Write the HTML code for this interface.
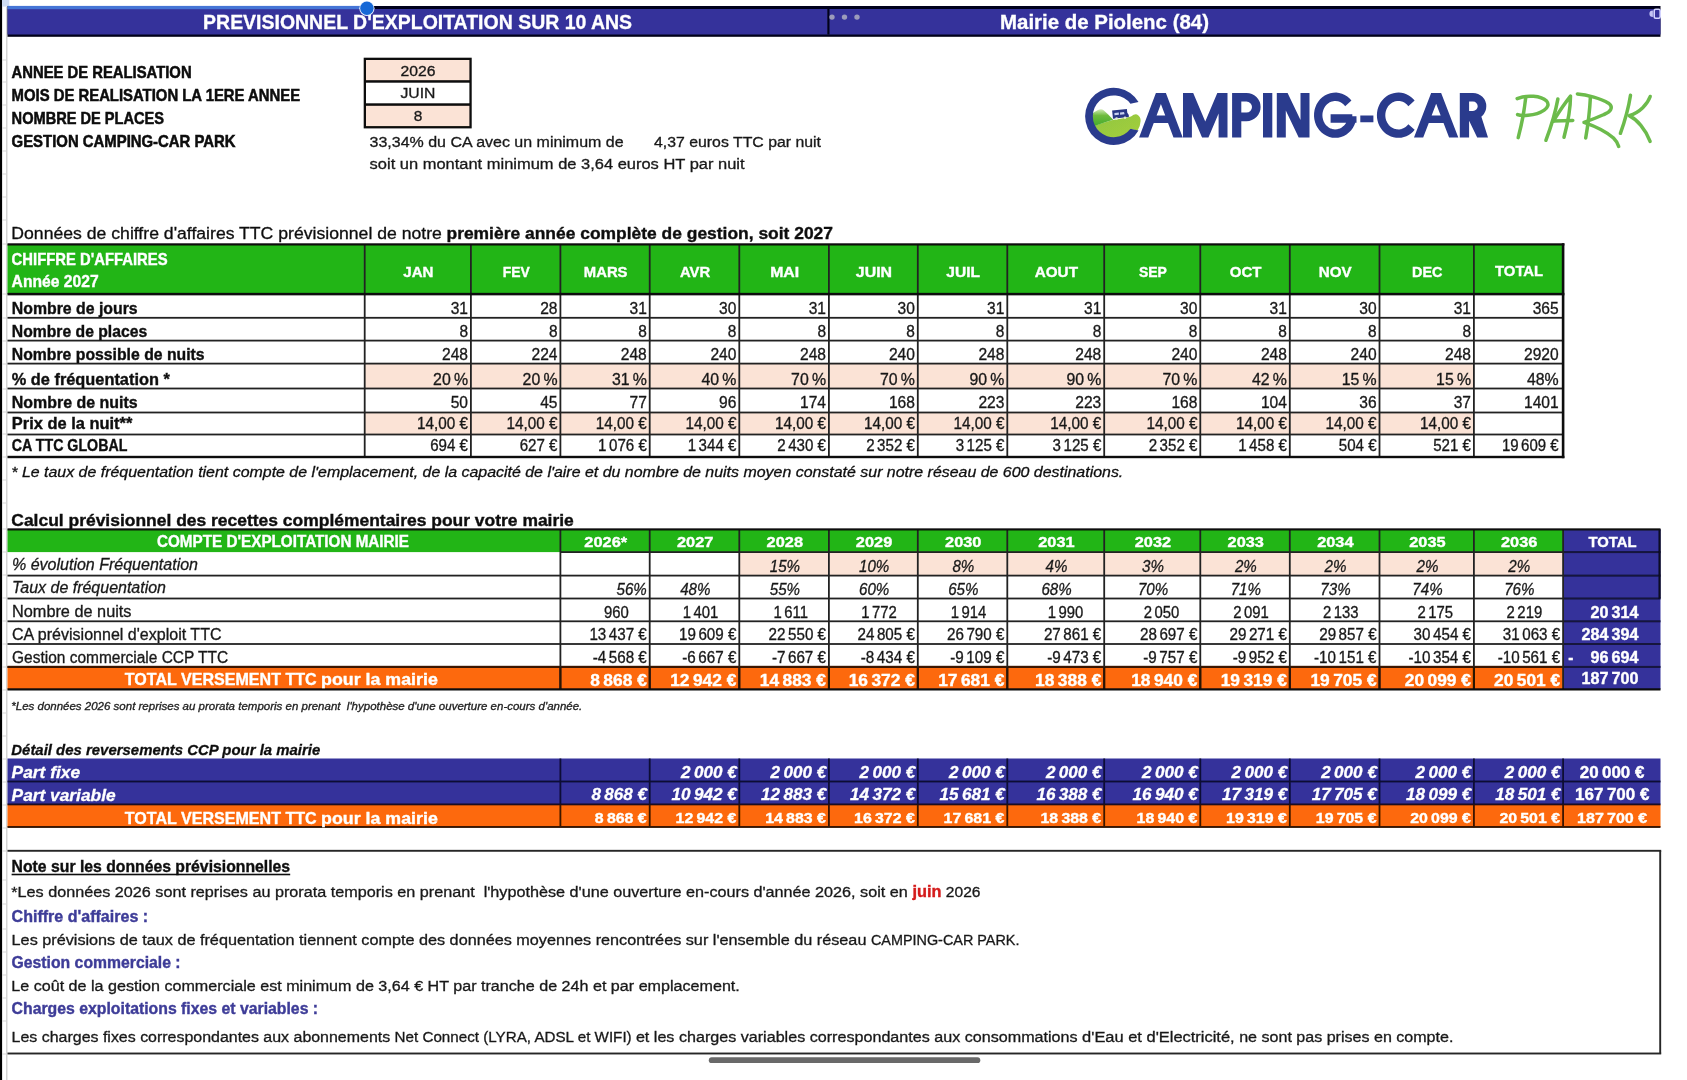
<!DOCTYPE html>
<html lang="fr"><head><meta charset="utf-8"><title>Previsionnel d'exploitation sur 10 ans - Mairie de Piolenc (84)</title>
<style>
html,body{margin:0;padding:0;background:#fff;}
body{width:1687px;height:1080px;overflow:hidden;position:relative;}
svg{position:absolute;left:0;top:0;display:block;}
text{font-family:"Liberation Sans",sans-serif;white-space:pre;}
text.b{font-weight:700;} text.i{font-style:italic;} text.bi{font-weight:700;font-style:italic;}
</style></head><body>
<svg width="1687" height="1080" viewBox="0 0 1687 1080">
<defs><filter id="soft" x="0" y="0" width="1687" height="1080" filterUnits="userSpaceOnUse"><feGaussianBlur stdDeviation="0.6"/></filter></defs>
<rect x="0" y="0" width="1687" height="1080" fill="#ffffff"/>
<g filter="url(#soft)">
<rect x="-5" y="-5" width="1697" height="1090" fill="#ffffff"/>
<rect x="0.00" y="0.00" width="2.10" height="1080.00" fill="#050505" />
<rect x="2.00" y="0.00" width="7.30" height="6.60" fill="#cfdcf2" />
<rect x="6.20" y="7.00" width="1.20" height="1073.00" fill="#c9c9c9" />
<rect x="2.00" y="59.50" width="5.00" height="1.00" fill="#d6d6d6" />
<rect x="2.00" y="81.50" width="5.00" height="1.00" fill="#d6d6d6" />
<rect x="2.00" y="104.50" width="5.00" height="1.00" fill="#d6d6d6" />
<rect x="2.00" y="127.50" width="5.00" height="1.00" fill="#d6d6d6" />
<rect x="2.00" y="150.50" width="5.00" height="1.00" fill="#d6d6d6" />
<rect x="2.00" y="173.50" width="5.00" height="1.00" fill="#d6d6d6" />
<rect x="2.00" y="196.50" width="5.00" height="1.00" fill="#d6d6d6" />
<rect x="2.00" y="219.50" width="5.00" height="1.00" fill="#d6d6d6" />
<rect x="2.00" y="243.50" width="5.00" height="1.00" fill="#d6d6d6" />
<rect x="2.00" y="293.50" width="5.00" height="1.00" fill="#d6d6d6" />
<rect x="2.00" y="317.50" width="5.00" height="1.00" fill="#d6d6d6" />
<rect x="2.00" y="340.50" width="5.00" height="1.00" fill="#d6d6d6" />
<rect x="2.00" y="363.50" width="5.00" height="1.00" fill="#d6d6d6" />
<rect x="2.00" y="388.50" width="5.00" height="1.00" fill="#d6d6d6" />
<rect x="2.00" y="411.50" width="5.00" height="1.00" fill="#d6d6d6" />
<rect x="2.00" y="433.50" width="5.00" height="1.00" fill="#d6d6d6" />
<rect x="2.00" y="456.50" width="5.00" height="1.00" fill="#d6d6d6" />
<rect x="2.00" y="479.50" width="5.00" height="1.00" fill="#d6d6d6" />
<rect x="2.00" y="502.50" width="5.00" height="1.00" fill="#d6d6d6" />
<rect x="2.00" y="528.50" width="5.00" height="1.00" fill="#d6d6d6" />
<rect x="2.00" y="551.50" width="5.00" height="1.00" fill="#d6d6d6" />
<rect x="2.00" y="574.50" width="5.00" height="1.00" fill="#d6d6d6" />
<rect x="2.00" y="597.50" width="5.00" height="1.00" fill="#d6d6d6" />
<rect x="2.00" y="620.50" width="5.00" height="1.00" fill="#d6d6d6" />
<rect x="2.00" y="643.50" width="5.00" height="1.00" fill="#d6d6d6" />
<rect x="2.00" y="666.50" width="5.00" height="1.00" fill="#d6d6d6" />
<rect x="2.00" y="689.50" width="5.00" height="1.00" fill="#d6d6d6" />
<rect x="2.00" y="712.50" width="5.00" height="1.00" fill="#d6d6d6" />
<rect x="2.00" y="735.50" width="5.00" height="1.00" fill="#d6d6d6" />
<rect x="2.00" y="758.50" width="5.00" height="1.00" fill="#d6d6d6" />
<rect x="2.00" y="781.50" width="5.00" height="1.00" fill="#d6d6d6" />
<rect x="2.00" y="804.50" width="5.00" height="1.00" fill="#d6d6d6" />
<rect x="2.00" y="827.50" width="5.00" height="1.00" fill="#d6d6d6" />
<rect x="2.00" y="850.50" width="5.00" height="1.00" fill="#d6d6d6" />
<rect x="2.00" y="879.50" width="5.00" height="1.00" fill="#d6d6d6" />
<rect x="2.00" y="903.50" width="5.00" height="1.00" fill="#d6d6d6" />
<rect x="2.00" y="928.50" width="5.00" height="1.00" fill="#d6d6d6" />
<rect x="2.00" y="951.50" width="5.00" height="1.00" fill="#d6d6d6" />
<rect x="2.00" y="974.50" width="5.00" height="1.00" fill="#d6d6d6" />
<rect x="2.00" y="997.50" width="5.00" height="1.00" fill="#d6d6d6" />
<rect x="2.00" y="1020.50" width="5.00" height="1.00" fill="#d6d6d6" />
<rect x="2.00" y="1053.50" width="5.00" height="1.00" fill="#d6d6d6" />
<rect x="7.50" y="6.00" width="1653.00" height="30.80" fill="#05051a" />
<rect x="7.50" y="9.00" width="1653.00" height="25.50" fill="#35339b" />
<rect x="7.50" y="5.90" width="359.50" height="3.30" fill="#4474d6" />
<rect x="827.30" y="9.00" width="2.20" height="25.50" fill="#05051a" />
<text x="203.10" y="29.25" font-size="20.3" fill="#ffffff" textLength="429.00" class="b" stroke="#ffffff" stroke-width="0.3" lengthAdjust="spacingAndGlyphs" xml:space="preserve" >PREVISIONNEL D&#x27;EXPLOITATION SUR 10 ANS</text>
<text x="1000.00" y="29.25" font-size="20.3" fill="#ffffff" textLength="209.00" class="b" stroke="#ffffff" stroke-width="0.3" lengthAdjust="spacingAndGlyphs" xml:space="preserve" >Mairie de Piolenc (84)</text>
<circle cx="832.00" cy="17.10" r="2.70" fill="#9c9cbb" />
<circle cx="844.50" cy="17.10" r="2.70" fill="#9c9cbb" />
<circle cx="857.00" cy="17.10" r="2.70" fill="#9c9cbb" />
<circle cx="366.90" cy="8.30" r="7.60" fill="#eef4ff" />
<circle cx="366.90" cy="8.30" r="6.70" fill="#1467d6" />
<rect x="1654.2" y="9.3" width="6" height="9" rx="1.5" fill="none" stroke="#d4d4ff" stroke-width="1.6"/>
<path d="M1652.9 10.5 a3.5 3.3 0 0 0 0 6.6 z" fill="#c4c4f4"/>
<text x="11.60" y="77.75" font-size="16.3" fill="#0a0a0a" textLength="180.00" class="b" stroke="#0a0a0a" stroke-width="0.5" lengthAdjust="spacingAndGlyphs" xml:space="preserve" >ANNEE DE REALISATION</text>
<text x="11.60" y="100.85" font-size="16.3" fill="#0a0a0a" textLength="288.50" class="b" stroke="#0a0a0a" stroke-width="0.5" lengthAdjust="spacingAndGlyphs" xml:space="preserve" >MOIS DE REALISATION LA 1ERE ANNEE</text>
<text x="11.60" y="123.85" font-size="16.3" fill="#0a0a0a" textLength="152.50" class="b" stroke="#0a0a0a" stroke-width="0.5" lengthAdjust="spacingAndGlyphs" xml:space="preserve" >NOMBRE DE PLACES</text>
<text x="11.60" y="147.05" font-size="16.3" fill="#0a0a0a" textLength="224.00" class="b" stroke="#0a0a0a" stroke-width="0.5" lengthAdjust="spacingAndGlyphs" xml:space="preserve" >GESTION CAMPING-CAR PARK</text>
<rect x="363.70" y="57.70" width="108.00" height="70.70" fill="#0b0b0b" />
<rect x="366.00" y="60.00" width="103.40" height="20.20" fill="#fbe3d6" />
<rect x="366.00" y="82.70" width="103.40" height="20.60" fill="#ffffff" />
<rect x="366.00" y="105.80" width="103.40" height="20.30" fill="#fbe3d6" />
<text x="418.00" y="76.15" font-size="15.3" fill="#1a1a1a" textLength="35.00" text-anchor="middle" stroke="#1a1a1a" stroke-width="0.32" lengthAdjust="spacingAndGlyphs" xml:space="preserve" >2026</text>
<text x="418.00" y="98.35" font-size="15.3" fill="#1a1a1a" textLength="35.00" text-anchor="middle" stroke="#1a1a1a" stroke-width="0.32" lengthAdjust="spacingAndGlyphs" xml:space="preserve" >JUIN</text>
<text x="418.00" y="120.95" font-size="15.3" fill="#1a1a1a" textLength="8.60" text-anchor="middle" stroke="#1a1a1a" stroke-width="0.32" lengthAdjust="spacingAndGlyphs" xml:space="preserve" >8</text>
<text x="369.60" y="146.55" font-size="15.3" fill="#1a1a1a" textLength="254.00" stroke="#1a1a1a" stroke-width="0.32" lengthAdjust="spacingAndGlyphs" xml:space="preserve" >33,34% du CA avec un minimum de</text>
<text x="654.00" y="146.55" font-size="15.3" fill="#1a1a1a" textLength="167.00" stroke="#1a1a1a" stroke-width="0.32" lengthAdjust="spacingAndGlyphs" xml:space="preserve" >4,37 euros TTC par nuit</text>
<text x="369.60" y="169.35" font-size="15.3" fill="#1a1a1a" textLength="375.00" stroke="#1a1a1a" stroke-width="0.32" lengthAdjust="spacingAndGlyphs" xml:space="preserve" >soit un montant minimum de 3,64 euros HT par nuit</text>
<text x="11.30" y="239.35" font-size="17.2" fill="#111" textLength="435.50" stroke="#111" stroke-width="0.32" lengthAdjust="spacingAndGlyphs" xml:space="preserve" >Données de chiffre d&#x27;affaires TTC prévisionnel de notre </text>
<text x="446.50" y="239.35" font-size="17.2" fill="#111" textLength="386.50" class="b" stroke="#111" stroke-width="0.38" lengthAdjust="spacingAndGlyphs" xml:space="preserve" >première année complète de gestion, soit 2027</text>
<rect x="7.50" y="244.40" width="1555.60" height="49.70" fill="#21b519" />
<rect x="364.70" y="363.60" width="1109.20" height="24.90" fill="#fbe3d6" />
<rect x="364.70" y="412.50" width="1109.20" height="22.00" fill="#fbe3d6" />
<rect x="7.50" y="316.90" width="1555.60" height="1.80" fill="#242424" />
<rect x="7.50" y="339.70" width="1555.60" height="1.80" fill="#242424" />
<rect x="7.50" y="362.70" width="1555.60" height="1.80" fill="#242424" />
<rect x="7.50" y="387.60" width="1555.60" height="1.80" fill="#242424" />
<rect x="7.50" y="411.60" width="1555.60" height="1.80" fill="#242424" />
<rect x="7.50" y="433.60" width="1555.60" height="1.80" fill="#242424" />
<rect x="363.80" y="244.40" width="1.80" height="212.60" fill="#242424" />
<rect x="470.00" y="244.40" width="1.80" height="212.60" fill="#242424" />
<rect x="559.50" y="244.40" width="1.80" height="212.60" fill="#242424" />
<rect x="648.80" y="244.40" width="1.80" height="212.60" fill="#242424" />
<rect x="738.40" y="244.40" width="1.80" height="212.60" fill="#242424" />
<rect x="828.00" y="244.40" width="1.80" height="212.60" fill="#242424" />
<rect x="916.90" y="244.40" width="1.80" height="212.60" fill="#242424" />
<rect x="1006.40" y="244.40" width="1.80" height="212.60" fill="#242424" />
<rect x="1103.30" y="244.40" width="1.80" height="212.60" fill="#242424" />
<rect x="1199.40" y="244.40" width="1.80" height="212.60" fill="#242424" />
<rect x="1288.90" y="244.40" width="1.80" height="212.60" fill="#242424" />
<rect x="1378.60" y="244.40" width="1.80" height="212.60" fill="#242424" />
<rect x="1473.00" y="244.40" width="1.80" height="212.60" fill="#242424" />
<rect x="7.50" y="243.30" width="1556.90" height="2.20" fill="#0b0b0b" />
<rect x="7.50" y="292.85" width="1556.90" height="2.50" fill="#0b0b0b" />
<rect x="7.50" y="455.80" width="1556.90" height="2.40" fill="#0b0b0b" />
<rect x="1561.80" y="243.30" width="2.60" height="214.90" fill="#0b0b0b" />
<text x="11.60" y="265.45" font-size="16.2" fill="#fff" textLength="156.00" class="b" stroke="#fff" stroke-width="0.38" lengthAdjust="spacingAndGlyphs" xml:space="preserve" >CHIFFRE D&#x27;AFFAIRES</text>
<text x="11.60" y="286.75" font-size="16.0" fill="#fff" textLength="87.00" class="b" stroke="#fff" stroke-width="0.38" lengthAdjust="spacingAndGlyphs" xml:space="preserve" >Année 2027</text>
<text x="418.40" y="276.75" font-size="15.5" fill="#fff" textLength="30.20" text-anchor="middle" class="b" stroke="#fff" stroke-width="0.38" lengthAdjust="spacingAndGlyphs" xml:space="preserve" >JAN</text>
<text x="516.25" y="276.75" font-size="15.5" fill="#fff" textLength="27.00" text-anchor="middle" class="b" stroke="#fff" stroke-width="0.38" lengthAdjust="spacingAndGlyphs" xml:space="preserve" >FEV</text>
<text x="605.65" y="276.75" font-size="15.5" fill="#fff" textLength="43.70" text-anchor="middle" class="b" stroke="#fff" stroke-width="0.38" lengthAdjust="spacingAndGlyphs" xml:space="preserve" >MARS</text>
<text x="695.10" y="276.75" font-size="15.5" fill="#fff" textLength="30.20" text-anchor="middle" class="b" stroke="#fff" stroke-width="0.38" lengthAdjust="spacingAndGlyphs" xml:space="preserve" >AVR</text>
<text x="784.70" y="276.75" font-size="15.5" fill="#fff" textLength="29.00" text-anchor="middle" class="b" stroke="#fff" stroke-width="0.38" lengthAdjust="spacingAndGlyphs" xml:space="preserve" >MAI</text>
<text x="873.95" y="276.75" font-size="15.5" fill="#fff" textLength="36.20" text-anchor="middle" class="b" stroke="#fff" stroke-width="0.38" lengthAdjust="spacingAndGlyphs" xml:space="preserve" >JUIN</text>
<text x="963.15" y="276.75" font-size="15.5" fill="#fff" textLength="33.70" text-anchor="middle" class="b" stroke="#fff" stroke-width="0.38" lengthAdjust="spacingAndGlyphs" xml:space="preserve" >JUIL</text>
<text x="1056.35" y="276.75" font-size="15.5" fill="#fff" textLength="43.20" text-anchor="middle" class="b" stroke="#fff" stroke-width="0.38" lengthAdjust="spacingAndGlyphs" xml:space="preserve" >AOUT</text>
<text x="1152.85" y="276.75" font-size="15.5" fill="#fff" textLength="27.90" text-anchor="middle" class="b" stroke="#fff" stroke-width="0.38" lengthAdjust="spacingAndGlyphs" xml:space="preserve" >SEP</text>
<text x="1245.65" y="276.75" font-size="15.5" fill="#fff" textLength="31.70" text-anchor="middle" class="b" stroke="#fff" stroke-width="0.38" lengthAdjust="spacingAndGlyphs" xml:space="preserve" >OCT</text>
<text x="1335.25" y="276.75" font-size="15.5" fill="#fff" textLength="32.90" text-anchor="middle" class="b" stroke="#fff" stroke-width="0.38" lengthAdjust="spacingAndGlyphs" xml:space="preserve" >NOV</text>
<text x="1427.30" y="276.75" font-size="15.5" fill="#fff" textLength="30.40" text-anchor="middle" class="b" stroke="#fff" stroke-width="0.38" lengthAdjust="spacingAndGlyphs" xml:space="preserve" >DEC</text>
<text x="1519.10" y="275.85" font-size="15.5" fill="#fff" textLength="48.10" text-anchor="middle" class="b" stroke="#fff" stroke-width="0.38" lengthAdjust="spacingAndGlyphs" xml:space="preserve" >TOTAL</text>
<text x="11.80" y="313.75" font-size="15.9" fill="#111" textLength="125.80" class="b" stroke="#111" stroke-width="0.38" lengthAdjust="spacingAndGlyphs" xml:space="preserve" >Nombre de jours</text>
<text x="468.00" y="313.75" font-size="15.6" fill="#1a1a1a" textLength="17.33" text-anchor="end" stroke="#1a1a1a" stroke-width="0.32" lengthAdjust="spacingAndGlyphs" xml:space="preserve" >31</text>
<text x="557.50" y="313.75" font-size="15.6" fill="#1a1a1a" textLength="17.33" text-anchor="end" stroke="#1a1a1a" stroke-width="0.32" lengthAdjust="spacingAndGlyphs" xml:space="preserve" >28</text>
<text x="646.80" y="313.75" font-size="15.6" fill="#1a1a1a" textLength="17.33" text-anchor="end" stroke="#1a1a1a" stroke-width="0.32" lengthAdjust="spacingAndGlyphs" xml:space="preserve" >31</text>
<text x="736.40" y="313.75" font-size="15.6" fill="#1a1a1a" textLength="17.33" text-anchor="end" stroke="#1a1a1a" stroke-width="0.32" lengthAdjust="spacingAndGlyphs" xml:space="preserve" >30</text>
<text x="826.00" y="313.75" font-size="15.6" fill="#1a1a1a" textLength="17.33" text-anchor="end" stroke="#1a1a1a" stroke-width="0.32" lengthAdjust="spacingAndGlyphs" xml:space="preserve" >31</text>
<text x="914.90" y="313.75" font-size="15.6" fill="#1a1a1a" textLength="17.33" text-anchor="end" stroke="#1a1a1a" stroke-width="0.32" lengthAdjust="spacingAndGlyphs" xml:space="preserve" >30</text>
<text x="1004.40" y="313.75" font-size="15.6" fill="#1a1a1a" textLength="17.33" text-anchor="end" stroke="#1a1a1a" stroke-width="0.32" lengthAdjust="spacingAndGlyphs" xml:space="preserve" >31</text>
<text x="1101.30" y="313.75" font-size="15.6" fill="#1a1a1a" textLength="17.33" text-anchor="end" stroke="#1a1a1a" stroke-width="0.32" lengthAdjust="spacingAndGlyphs" xml:space="preserve" >31</text>
<text x="1197.40" y="313.75" font-size="15.6" fill="#1a1a1a" textLength="17.33" text-anchor="end" stroke="#1a1a1a" stroke-width="0.32" lengthAdjust="spacingAndGlyphs" xml:space="preserve" >30</text>
<text x="1286.90" y="313.75" font-size="15.6" fill="#1a1a1a" textLength="17.33" text-anchor="end" stroke="#1a1a1a" stroke-width="0.32" lengthAdjust="spacingAndGlyphs" xml:space="preserve" >31</text>
<text x="1376.60" y="313.75" font-size="15.6" fill="#1a1a1a" textLength="17.33" text-anchor="end" stroke="#1a1a1a" stroke-width="0.32" lengthAdjust="spacingAndGlyphs" xml:space="preserve" >30</text>
<text x="1471.00" y="313.75" font-size="15.6" fill="#1a1a1a" textLength="17.33" text-anchor="end" stroke="#1a1a1a" stroke-width="0.32" lengthAdjust="spacingAndGlyphs" xml:space="preserve" >31</text>
<text x="1558.70" y="313.75" font-size="15.6" fill="#1a1a1a" textLength="26.00" text-anchor="end" stroke="#1a1a1a" stroke-width="0.32" lengthAdjust="spacingAndGlyphs" xml:space="preserve" >365</text>
<text x="11.80" y="336.65" font-size="15.9" fill="#111" textLength="135.40" class="b" stroke="#111" stroke-width="0.38" lengthAdjust="spacingAndGlyphs" xml:space="preserve" >Nombre de places</text>
<text x="468.00" y="336.65" font-size="15.6" fill="#1a1a1a" textLength="8.60" text-anchor="end" stroke="#1a1a1a" stroke-width="0.32" lengthAdjust="spacingAndGlyphs" xml:space="preserve" >8</text>
<text x="557.50" y="336.65" font-size="15.6" fill="#1a1a1a" textLength="8.60" text-anchor="end" stroke="#1a1a1a" stroke-width="0.32" lengthAdjust="spacingAndGlyphs" xml:space="preserve" >8</text>
<text x="646.80" y="336.65" font-size="15.6" fill="#1a1a1a" textLength="8.60" text-anchor="end" stroke="#1a1a1a" stroke-width="0.32" lengthAdjust="spacingAndGlyphs" xml:space="preserve" >8</text>
<text x="736.40" y="336.65" font-size="15.6" fill="#1a1a1a" textLength="8.60" text-anchor="end" stroke="#1a1a1a" stroke-width="0.32" lengthAdjust="spacingAndGlyphs" xml:space="preserve" >8</text>
<text x="826.00" y="336.65" font-size="15.6" fill="#1a1a1a" textLength="8.60" text-anchor="end" stroke="#1a1a1a" stroke-width="0.32" lengthAdjust="spacingAndGlyphs" xml:space="preserve" >8</text>
<text x="914.90" y="336.65" font-size="15.6" fill="#1a1a1a" textLength="8.60" text-anchor="end" stroke="#1a1a1a" stroke-width="0.32" lengthAdjust="spacingAndGlyphs" xml:space="preserve" >8</text>
<text x="1004.40" y="336.65" font-size="15.6" fill="#1a1a1a" textLength="8.60" text-anchor="end" stroke="#1a1a1a" stroke-width="0.32" lengthAdjust="spacingAndGlyphs" xml:space="preserve" >8</text>
<text x="1101.30" y="336.65" font-size="15.6" fill="#1a1a1a" textLength="8.60" text-anchor="end" stroke="#1a1a1a" stroke-width="0.32" lengthAdjust="spacingAndGlyphs" xml:space="preserve" >8</text>
<text x="1197.40" y="336.65" font-size="15.6" fill="#1a1a1a" textLength="8.60" text-anchor="end" stroke="#1a1a1a" stroke-width="0.32" lengthAdjust="spacingAndGlyphs" xml:space="preserve" >8</text>
<text x="1286.90" y="336.65" font-size="15.6" fill="#1a1a1a" textLength="8.60" text-anchor="end" stroke="#1a1a1a" stroke-width="0.32" lengthAdjust="spacingAndGlyphs" xml:space="preserve" >8</text>
<text x="1376.60" y="336.65" font-size="15.6" fill="#1a1a1a" textLength="8.60" text-anchor="end" stroke="#1a1a1a" stroke-width="0.32" lengthAdjust="spacingAndGlyphs" xml:space="preserve" >8</text>
<text x="1471.00" y="336.65" font-size="15.6" fill="#1a1a1a" textLength="8.60" text-anchor="end" stroke="#1a1a1a" stroke-width="0.32" lengthAdjust="spacingAndGlyphs" xml:space="preserve" >8</text>
<text x="11.80" y="359.95" font-size="15.9" fill="#111" textLength="192.80" class="b" stroke="#111" stroke-width="0.38" lengthAdjust="spacingAndGlyphs" xml:space="preserve" >Nombre possible de nuits</text>
<text x="468.00" y="359.95" font-size="15.6" fill="#1a1a1a" textLength="26.00" text-anchor="end" stroke="#1a1a1a" stroke-width="0.32" lengthAdjust="spacingAndGlyphs" xml:space="preserve" >248</text>
<text x="557.50" y="359.95" font-size="15.6" fill="#1a1a1a" textLength="26.00" text-anchor="end" stroke="#1a1a1a" stroke-width="0.32" lengthAdjust="spacingAndGlyphs" xml:space="preserve" >224</text>
<text x="646.80" y="359.95" font-size="15.6" fill="#1a1a1a" textLength="26.00" text-anchor="end" stroke="#1a1a1a" stroke-width="0.32" lengthAdjust="spacingAndGlyphs" xml:space="preserve" >248</text>
<text x="736.40" y="359.95" font-size="15.6" fill="#1a1a1a" textLength="26.00" text-anchor="end" stroke="#1a1a1a" stroke-width="0.32" lengthAdjust="spacingAndGlyphs" xml:space="preserve" >240</text>
<text x="826.00" y="359.95" font-size="15.6" fill="#1a1a1a" textLength="26.00" text-anchor="end" stroke="#1a1a1a" stroke-width="0.32" lengthAdjust="spacingAndGlyphs" xml:space="preserve" >248</text>
<text x="914.90" y="359.95" font-size="15.6" fill="#1a1a1a" textLength="26.00" text-anchor="end" stroke="#1a1a1a" stroke-width="0.32" lengthAdjust="spacingAndGlyphs" xml:space="preserve" >240</text>
<text x="1004.40" y="359.95" font-size="15.6" fill="#1a1a1a" textLength="26.00" text-anchor="end" stroke="#1a1a1a" stroke-width="0.32" lengthAdjust="spacingAndGlyphs" xml:space="preserve" >248</text>
<text x="1101.30" y="359.95" font-size="15.6" fill="#1a1a1a" textLength="26.00" text-anchor="end" stroke="#1a1a1a" stroke-width="0.32" lengthAdjust="spacingAndGlyphs" xml:space="preserve" >248</text>
<text x="1197.40" y="359.95" font-size="15.6" fill="#1a1a1a" textLength="26.00" text-anchor="end" stroke="#1a1a1a" stroke-width="0.32" lengthAdjust="spacingAndGlyphs" xml:space="preserve" >240</text>
<text x="1286.90" y="359.95" font-size="15.6" fill="#1a1a1a" textLength="26.00" text-anchor="end" stroke="#1a1a1a" stroke-width="0.32" lengthAdjust="spacingAndGlyphs" xml:space="preserve" >248</text>
<text x="1376.60" y="359.95" font-size="15.6" fill="#1a1a1a" textLength="26.00" text-anchor="end" stroke="#1a1a1a" stroke-width="0.32" lengthAdjust="spacingAndGlyphs" xml:space="preserve" >240</text>
<text x="1471.00" y="359.95" font-size="15.6" fill="#1a1a1a" textLength="26.00" text-anchor="end" stroke="#1a1a1a" stroke-width="0.32" lengthAdjust="spacingAndGlyphs" xml:space="preserve" >248</text>
<text x="1558.70" y="359.95" font-size="15.6" fill="#1a1a1a" textLength="34.67" text-anchor="end" stroke="#1a1a1a" stroke-width="0.32" lengthAdjust="spacingAndGlyphs" xml:space="preserve" >2920</text>
<text x="11.80" y="385.05" font-size="15.9" fill="#111" textLength="158.00" class="b" stroke="#111" stroke-width="0.38" lengthAdjust="spacingAndGlyphs" xml:space="preserve" >% de fréquentation *</text>
<text x="468.00" y="385.05" font-size="15.6" fill="#1a1a1a" textLength="34.90" text-anchor="end" stroke="#1a1a1a" stroke-width="0.32" lengthAdjust="spacingAndGlyphs" xml:space="preserve" >20 %</text>
<text x="557.50" y="385.05" font-size="15.6" fill="#1a1a1a" textLength="34.90" text-anchor="end" stroke="#1a1a1a" stroke-width="0.32" lengthAdjust="spacingAndGlyphs" xml:space="preserve" >20 %</text>
<text x="646.80" y="385.05" font-size="15.6" fill="#1a1a1a" textLength="34.90" text-anchor="end" stroke="#1a1a1a" stroke-width="0.32" lengthAdjust="spacingAndGlyphs" xml:space="preserve" >31 %</text>
<text x="736.40" y="385.05" font-size="15.6" fill="#1a1a1a" textLength="34.90" text-anchor="end" stroke="#1a1a1a" stroke-width="0.32" lengthAdjust="spacingAndGlyphs" xml:space="preserve" >40 %</text>
<text x="826.00" y="385.05" font-size="15.6" fill="#1a1a1a" textLength="34.90" text-anchor="end" stroke="#1a1a1a" stroke-width="0.32" lengthAdjust="spacingAndGlyphs" xml:space="preserve" >70 %</text>
<text x="914.90" y="385.05" font-size="15.6" fill="#1a1a1a" textLength="34.90" text-anchor="end" stroke="#1a1a1a" stroke-width="0.32" lengthAdjust="spacingAndGlyphs" xml:space="preserve" >70 %</text>
<text x="1004.40" y="385.05" font-size="15.6" fill="#1a1a1a" textLength="34.90" text-anchor="end" stroke="#1a1a1a" stroke-width="0.32" lengthAdjust="spacingAndGlyphs" xml:space="preserve" >90 %</text>
<text x="1101.30" y="385.05" font-size="15.6" fill="#1a1a1a" textLength="34.90" text-anchor="end" stroke="#1a1a1a" stroke-width="0.32" lengthAdjust="spacingAndGlyphs" xml:space="preserve" >90 %</text>
<text x="1197.40" y="385.05" font-size="15.6" fill="#1a1a1a" textLength="34.90" text-anchor="end" stroke="#1a1a1a" stroke-width="0.32" lengthAdjust="spacingAndGlyphs" xml:space="preserve" >70 %</text>
<text x="1286.90" y="385.05" font-size="15.6" fill="#1a1a1a" textLength="34.90" text-anchor="end" stroke="#1a1a1a" stroke-width="0.32" lengthAdjust="spacingAndGlyphs" xml:space="preserve" >42 %</text>
<text x="1376.60" y="385.05" font-size="15.6" fill="#1a1a1a" textLength="34.90" text-anchor="end" stroke="#1a1a1a" stroke-width="0.32" lengthAdjust="spacingAndGlyphs" xml:space="preserve" >15 %</text>
<text x="1471.00" y="385.05" font-size="15.6" fill="#1a1a1a" textLength="34.90" text-anchor="end" stroke="#1a1a1a" stroke-width="0.32" lengthAdjust="spacingAndGlyphs" xml:space="preserve" >15 %</text>
<text x="1558.70" y="385.05" font-size="15.6" fill="#1a1a1a" textLength="31.80" text-anchor="end" stroke="#1a1a1a" stroke-width="0.32" lengthAdjust="spacingAndGlyphs" xml:space="preserve" >48%</text>
<text x="11.80" y="408.05" font-size="15.9" fill="#111" textLength="125.80" class="b" stroke="#111" stroke-width="0.38" lengthAdjust="spacingAndGlyphs" xml:space="preserve" >Nombre de nuits</text>
<text x="468.00" y="408.05" font-size="15.6" fill="#1a1a1a" textLength="17.33" text-anchor="end" stroke="#1a1a1a" stroke-width="0.32" lengthAdjust="spacingAndGlyphs" xml:space="preserve" >50</text>
<text x="557.50" y="408.05" font-size="15.6" fill="#1a1a1a" textLength="17.33" text-anchor="end" stroke="#1a1a1a" stroke-width="0.32" lengthAdjust="spacingAndGlyphs" xml:space="preserve" >45</text>
<text x="646.80" y="408.05" font-size="15.6" fill="#1a1a1a" textLength="17.33" text-anchor="end" stroke="#1a1a1a" stroke-width="0.32" lengthAdjust="spacingAndGlyphs" xml:space="preserve" >77</text>
<text x="736.40" y="408.05" font-size="15.6" fill="#1a1a1a" textLength="17.33" text-anchor="end" stroke="#1a1a1a" stroke-width="0.32" lengthAdjust="spacingAndGlyphs" xml:space="preserve" >96</text>
<text x="826.00" y="408.05" font-size="15.6" fill="#1a1a1a" textLength="26.00" text-anchor="end" stroke="#1a1a1a" stroke-width="0.32" lengthAdjust="spacingAndGlyphs" xml:space="preserve" >174</text>
<text x="914.90" y="408.05" font-size="15.6" fill="#1a1a1a" textLength="26.00" text-anchor="end" stroke="#1a1a1a" stroke-width="0.32" lengthAdjust="spacingAndGlyphs" xml:space="preserve" >168</text>
<text x="1004.40" y="408.05" font-size="15.6" fill="#1a1a1a" textLength="26.00" text-anchor="end" stroke="#1a1a1a" stroke-width="0.32" lengthAdjust="spacingAndGlyphs" xml:space="preserve" >223</text>
<text x="1101.30" y="408.05" font-size="15.6" fill="#1a1a1a" textLength="26.00" text-anchor="end" stroke="#1a1a1a" stroke-width="0.32" lengthAdjust="spacingAndGlyphs" xml:space="preserve" >223</text>
<text x="1197.40" y="408.05" font-size="15.6" fill="#1a1a1a" textLength="26.00" text-anchor="end" stroke="#1a1a1a" stroke-width="0.32" lengthAdjust="spacingAndGlyphs" xml:space="preserve" >168</text>
<text x="1286.90" y="408.05" font-size="15.6" fill="#1a1a1a" textLength="26.00" text-anchor="end" stroke="#1a1a1a" stroke-width="0.32" lengthAdjust="spacingAndGlyphs" xml:space="preserve" >104</text>
<text x="1376.60" y="408.05" font-size="15.6" fill="#1a1a1a" textLength="17.33" text-anchor="end" stroke="#1a1a1a" stroke-width="0.32" lengthAdjust="spacingAndGlyphs" xml:space="preserve" >36</text>
<text x="1471.00" y="408.05" font-size="15.6" fill="#1a1a1a" textLength="17.33" text-anchor="end" stroke="#1a1a1a" stroke-width="0.32" lengthAdjust="spacingAndGlyphs" xml:space="preserve" >37</text>
<text x="1558.70" y="408.05" font-size="15.6" fill="#1a1a1a" textLength="34.67" text-anchor="end" stroke="#1a1a1a" stroke-width="0.32" lengthAdjust="spacingAndGlyphs" xml:space="preserve" >1401</text>
<text x="11.80" y="428.75" font-size="15.9" fill="#111" textLength="120.60" class="b" stroke="#111" stroke-width="0.38" lengthAdjust="spacingAndGlyphs" xml:space="preserve" >Prix de la nuit**</text>
<text x="468.00" y="428.75" font-size="15.6" fill="#1a1a1a" textLength="51.00" text-anchor="end" stroke="#1a1a1a" stroke-width="0.32" lengthAdjust="spacingAndGlyphs" xml:space="preserve" >14,00 €</text>
<text x="557.50" y="428.75" font-size="15.6" fill="#1a1a1a" textLength="51.00" text-anchor="end" stroke="#1a1a1a" stroke-width="0.32" lengthAdjust="spacingAndGlyphs" xml:space="preserve" >14,00 €</text>
<text x="646.80" y="428.75" font-size="15.6" fill="#1a1a1a" textLength="51.00" text-anchor="end" stroke="#1a1a1a" stroke-width="0.32" lengthAdjust="spacingAndGlyphs" xml:space="preserve" >14,00 €</text>
<text x="736.40" y="428.75" font-size="15.6" fill="#1a1a1a" textLength="51.00" text-anchor="end" stroke="#1a1a1a" stroke-width="0.32" lengthAdjust="spacingAndGlyphs" xml:space="preserve" >14,00 €</text>
<text x="826.00" y="428.75" font-size="15.6" fill="#1a1a1a" textLength="51.00" text-anchor="end" stroke="#1a1a1a" stroke-width="0.32" lengthAdjust="spacingAndGlyphs" xml:space="preserve" >14,00 €</text>
<text x="914.90" y="428.75" font-size="15.6" fill="#1a1a1a" textLength="51.00" text-anchor="end" stroke="#1a1a1a" stroke-width="0.32" lengthAdjust="spacingAndGlyphs" xml:space="preserve" >14,00 €</text>
<text x="1004.40" y="428.75" font-size="15.6" fill="#1a1a1a" textLength="51.00" text-anchor="end" stroke="#1a1a1a" stroke-width="0.32" lengthAdjust="spacingAndGlyphs" xml:space="preserve" >14,00 €</text>
<text x="1101.30" y="428.75" font-size="15.6" fill="#1a1a1a" textLength="51.00" text-anchor="end" stroke="#1a1a1a" stroke-width="0.32" lengthAdjust="spacingAndGlyphs" xml:space="preserve" >14,00 €</text>
<text x="1197.40" y="428.75" font-size="15.6" fill="#1a1a1a" textLength="51.00" text-anchor="end" stroke="#1a1a1a" stroke-width="0.32" lengthAdjust="spacingAndGlyphs" xml:space="preserve" >14,00 €</text>
<text x="1286.90" y="428.75" font-size="15.6" fill="#1a1a1a" textLength="51.00" text-anchor="end" stroke="#1a1a1a" stroke-width="0.32" lengthAdjust="spacingAndGlyphs" xml:space="preserve" >14,00 €</text>
<text x="1376.60" y="428.75" font-size="15.6" fill="#1a1a1a" textLength="51.00" text-anchor="end" stroke="#1a1a1a" stroke-width="0.32" lengthAdjust="spacingAndGlyphs" xml:space="preserve" >14,00 €</text>
<text x="1471.00" y="428.75" font-size="15.6" fill="#1a1a1a" textLength="51.00" text-anchor="end" stroke="#1a1a1a" stroke-width="0.32" lengthAdjust="spacingAndGlyphs" xml:space="preserve" >14,00 €</text>
<text x="11.80" y="451.25" font-size="15.9" fill="#111" textLength="115.60" class="b" stroke="#111" stroke-width="0.38" lengthAdjust="spacingAndGlyphs" xml:space="preserve" >CA TTC GLOBAL</text>
<text x="468.00" y="451.25" font-size="15.6" fill="#1a1a1a" textLength="37.80" text-anchor="end" stroke="#1a1a1a" stroke-width="0.32" lengthAdjust="spacingAndGlyphs" xml:space="preserve" >694 €</text>
<text x="557.50" y="451.25" font-size="15.6" fill="#1a1a1a" textLength="37.80" text-anchor="end" stroke="#1a1a1a" stroke-width="0.32" lengthAdjust="spacingAndGlyphs" xml:space="preserve" >627 €</text>
<text x="646.80" y="451.25" font-size="15.6" fill="#1a1a1a" textLength="48.72" text-anchor="end" stroke="#1a1a1a" stroke-width="0.32" lengthAdjust="spacingAndGlyphs" xml:space="preserve" >1 076 €</text>
<text x="736.40" y="451.25" font-size="15.6" fill="#1a1a1a" textLength="48.72" text-anchor="end" stroke="#1a1a1a" stroke-width="0.32" lengthAdjust="spacingAndGlyphs" xml:space="preserve" >1 344 €</text>
<text x="826.00" y="451.25" font-size="15.6" fill="#1a1a1a" textLength="48.72" text-anchor="end" stroke="#1a1a1a" stroke-width="0.32" lengthAdjust="spacingAndGlyphs" xml:space="preserve" >2 430 €</text>
<text x="914.90" y="451.25" font-size="15.6" fill="#1a1a1a" textLength="48.72" text-anchor="end" stroke="#1a1a1a" stroke-width="0.32" lengthAdjust="spacingAndGlyphs" xml:space="preserve" >2 352 €</text>
<text x="1004.40" y="451.25" font-size="15.6" fill="#1a1a1a" textLength="48.72" text-anchor="end" stroke="#1a1a1a" stroke-width="0.32" lengthAdjust="spacingAndGlyphs" xml:space="preserve" >3 125 €</text>
<text x="1101.30" y="451.25" font-size="15.6" fill="#1a1a1a" textLength="48.72" text-anchor="end" stroke="#1a1a1a" stroke-width="0.32" lengthAdjust="spacingAndGlyphs" xml:space="preserve" >3 125 €</text>
<text x="1197.40" y="451.25" font-size="15.6" fill="#1a1a1a" textLength="48.72" text-anchor="end" stroke="#1a1a1a" stroke-width="0.32" lengthAdjust="spacingAndGlyphs" xml:space="preserve" >2 352 €</text>
<text x="1286.90" y="451.25" font-size="15.6" fill="#1a1a1a" textLength="48.72" text-anchor="end" stroke="#1a1a1a" stroke-width="0.32" lengthAdjust="spacingAndGlyphs" xml:space="preserve" >1 458 €</text>
<text x="1376.60" y="451.25" font-size="15.6" fill="#1a1a1a" textLength="37.80" text-anchor="end" stroke="#1a1a1a" stroke-width="0.32" lengthAdjust="spacingAndGlyphs" xml:space="preserve" >504 €</text>
<text x="1471.00" y="451.25" font-size="15.6" fill="#1a1a1a" textLength="37.80" text-anchor="end" stroke="#1a1a1a" stroke-width="0.32" lengthAdjust="spacingAndGlyphs" xml:space="preserve" >521 €</text>
<text x="1558.70" y="451.25" font-size="15.6" fill="#1a1a1a" textLength="56.80" text-anchor="end" stroke="#1a1a1a" stroke-width="0.32" lengthAdjust="spacingAndGlyphs" xml:space="preserve" >19 609 €</text>
<text x="11.30" y="476.75" font-size="14.6" fill="#111" textLength="1112.00" class="i" stroke="#111" stroke-width="0.3" lengthAdjust="spacingAndGlyphs" xml:space="preserve" >* Le taux de fréquentation tient compte de l&#x27;emplacement, de la capacité de l&#x27;aire et du nombre de nuits moyen constaté sur notre réseau de 600 destinations.</text>
<text x="11.30" y="525.55" font-size="16.6" fill="#111" textLength="562.50" class="b" stroke="#111" stroke-width="0.38" lengthAdjust="spacingAndGlyphs" xml:space="preserve" >Calcul prévisionnel des recettes complémentaires pour votre mairie</text>
<rect x="7.50" y="529.40" width="1555.60" height="22.70" fill="#21b519" />
<rect x="1563.10" y="529.40" width="97.40" height="160.00" fill="#35339b" />
<rect x="739.30" y="552.10" width="823.80" height="23.50" fill="#fbe3d6" />
<rect x="7.50" y="666.90" width="1555.60" height="22.50" fill="#fd6907" />
<rect x="7.50" y="574.70" width="1555.60" height="1.80" fill="#242424" />
<rect x="7.50" y="597.60" width="1555.60" height="1.80" fill="#242424" />
<rect x="7.50" y="620.40" width="1555.60" height="1.80" fill="#242424" />
<rect x="7.50" y="643.10" width="1555.60" height="1.80" fill="#242424" />
<rect x="7.50" y="666.00" width="1555.60" height="1.80" fill="#242424" />
<rect x="1563.10" y="574.60" width="97.40" height="2.00" fill="#12123c" />
<rect x="1563.10" y="597.50" width="97.40" height="2.00" fill="#12123c" />
<rect x="1563.10" y="620.30" width="97.40" height="2.00" fill="#12123c" />
<rect x="1563.10" y="643.00" width="97.40" height="2.00" fill="#12123c" />
<rect x="1563.10" y="665.90" width="97.40" height="2.00" fill="#12123c" />
<rect x="560.40" y="551.20" width="1002.70" height="1.80" fill="#242424" />
<rect x="1563.10" y="551.10" width="97.40" height="2.00" fill="#12123c" />
<rect x="7.50" y="665.80" width="1555.60" height="2.20" fill="#3a1500" />
<rect x="559.50" y="529.40" width="1.80" height="160.00" fill="#242424" />
<rect x="648.80" y="529.40" width="1.80" height="160.00" fill="#242424" />
<rect x="738.40" y="529.40" width="1.80" height="160.00" fill="#242424" />
<rect x="828.00" y="529.40" width="1.80" height="160.00" fill="#242424" />
<rect x="916.90" y="529.40" width="1.80" height="160.00" fill="#242424" />
<rect x="1006.40" y="529.40" width="1.80" height="160.00" fill="#242424" />
<rect x="1103.30" y="529.40" width="1.80" height="160.00" fill="#242424" />
<rect x="1199.40" y="529.40" width="1.80" height="160.00" fill="#242424" />
<rect x="1288.90" y="529.40" width="1.80" height="160.00" fill="#242424" />
<rect x="1378.60" y="529.40" width="1.80" height="160.00" fill="#242424" />
<rect x="1473.00" y="529.40" width="1.80" height="160.00" fill="#242424" />
<rect x="1562.20" y="529.40" width="1.80" height="160.00" fill="#242424" />
<rect x="559.35" y="666.90" width="2.10" height="22.50" fill="#2a1206" />
<rect x="648.65" y="666.90" width="2.10" height="22.50" fill="#2a1206" />
<rect x="738.25" y="666.90" width="2.10" height="22.50" fill="#2a1206" />
<rect x="827.85" y="666.90" width="2.10" height="22.50" fill="#2a1206" />
<rect x="916.75" y="666.90" width="2.10" height="22.50" fill="#2a1206" />
<rect x="1006.25" y="666.90" width="2.10" height="22.50" fill="#2a1206" />
<rect x="1103.15" y="666.90" width="2.10" height="22.50" fill="#2a1206" />
<rect x="1199.25" y="666.90" width="2.10" height="22.50" fill="#2a1206" />
<rect x="1288.75" y="666.90" width="2.10" height="22.50" fill="#2a1206" />
<rect x="1378.45" y="666.90" width="2.10" height="22.50" fill="#2a1206" />
<rect x="1472.85" y="666.90" width="2.10" height="22.50" fill="#2a1206" />
<rect x="7.50" y="528.35" width="1653.00" height="2.10" fill="#0b0b0b" />
<rect x="7.50" y="688.30" width="1653.00" height="2.20" fill="#0b0b0b" />
<rect x="1658.50" y="529.40" width="2.20" height="69.10" fill="#0a0a20" />
<text x="283.00" y="546.85" font-size="16.0" fill="#fff" textLength="252.00" text-anchor="middle" class="b" stroke="#fff" stroke-width="0.38" lengthAdjust="spacingAndGlyphs" xml:space="preserve" >COMPTE D&#x27;EXPLOITATION MAIRIE</text>
<text x="605.75" y="546.65" font-size="15.4" fill="#fff" textLength="42.77" text-anchor="middle" class="b" stroke="#fff" stroke-width="0.38" lengthAdjust="spacingAndGlyphs" xml:space="preserve" >2026*</text>
<text x="695.20" y="546.65" font-size="15.4" fill="#fff" textLength="36.40" text-anchor="middle" class="b" stroke="#fff" stroke-width="0.38" lengthAdjust="spacingAndGlyphs" xml:space="preserve" >2027</text>
<text x="784.80" y="546.65" font-size="15.4" fill="#fff" textLength="36.40" text-anchor="middle" class="b" stroke="#fff" stroke-width="0.38" lengthAdjust="spacingAndGlyphs" xml:space="preserve" >2028</text>
<text x="874.05" y="546.65" font-size="15.4" fill="#fff" textLength="36.40" text-anchor="middle" class="b" stroke="#fff" stroke-width="0.38" lengthAdjust="spacingAndGlyphs" xml:space="preserve" >2029</text>
<text x="963.25" y="546.65" font-size="15.4" fill="#fff" textLength="36.40" text-anchor="middle" class="b" stroke="#fff" stroke-width="0.38" lengthAdjust="spacingAndGlyphs" xml:space="preserve" >2030</text>
<text x="1056.45" y="546.65" font-size="15.4" fill="#fff" textLength="36.40" text-anchor="middle" class="b" stroke="#fff" stroke-width="0.38" lengthAdjust="spacingAndGlyphs" xml:space="preserve" >2031</text>
<text x="1152.95" y="546.65" font-size="15.4" fill="#fff" textLength="36.40" text-anchor="middle" class="b" stroke="#fff" stroke-width="0.38" lengthAdjust="spacingAndGlyphs" xml:space="preserve" >2032</text>
<text x="1245.75" y="546.65" font-size="15.4" fill="#fff" textLength="36.40" text-anchor="middle" class="b" stroke="#fff" stroke-width="0.38" lengthAdjust="spacingAndGlyphs" xml:space="preserve" >2033</text>
<text x="1335.35" y="546.65" font-size="15.4" fill="#fff" textLength="36.40" text-anchor="middle" class="b" stroke="#fff" stroke-width="0.38" lengthAdjust="spacingAndGlyphs" xml:space="preserve" >2034</text>
<text x="1427.40" y="546.65" font-size="15.4" fill="#fff" textLength="36.40" text-anchor="middle" class="b" stroke="#fff" stroke-width="0.38" lengthAdjust="spacingAndGlyphs" xml:space="preserve" >2035</text>
<text x="1519.20" y="546.65" font-size="15.4" fill="#fff" textLength="36.40" text-anchor="middle" class="b" stroke="#fff" stroke-width="0.38" lengthAdjust="spacingAndGlyphs" xml:space="preserve" >2036</text>
<text x="1612.50" y="546.65" font-size="15.4" fill="#fff" textLength="48.00" text-anchor="middle" class="b" stroke="#fff" stroke-width="0.38" lengthAdjust="spacingAndGlyphs" xml:space="preserve" >TOTAL</text>
<text x="12.00" y="570.25" font-size="16.0" fill="#1a1a1a" textLength="186.00" class="i" stroke="#1a1a1a" stroke-width="0.3" lengthAdjust="spacingAndGlyphs" xml:space="preserve" >% évolution Fréquentation</text>
<text x="12.00" y="592.85" font-size="16.0" fill="#1a1a1a" textLength="154.00" class="i" stroke="#1a1a1a" stroke-width="0.3" lengthAdjust="spacingAndGlyphs" xml:space="preserve" >Taux de fréquentation</text>
<text x="12.00" y="617.15" font-size="16.0" fill="#1a1a1a" textLength="119.50" stroke="#1a1a1a" stroke-width="0.32" lengthAdjust="spacingAndGlyphs" xml:space="preserve" >Nombre de nuits</text>
<text x="12.00" y="640.25" font-size="16.0" fill="#1a1a1a" textLength="209.50" stroke="#1a1a1a" stroke-width="0.32" lengthAdjust="spacingAndGlyphs" xml:space="preserve" >CA prévisionnel d&#x27;exploit TTC</text>
<text x="12.00" y="663.25" font-size="16.0" fill="#1a1a1a" textLength="216.20" stroke="#1a1a1a" stroke-width="0.32" lengthAdjust="spacingAndGlyphs" xml:space="preserve" >Gestion commerciale CCP TTC</text>
<text x="124.80" y="685.45" font-size="16.6" fill="#fff" textLength="191.84" class="b" stroke="#fff" stroke-width="0.38" lengthAdjust="spacingAndGlyphs" xml:space="preserve" >TOTAL VERSEMENT TTC</text>
<text x="321.10" y="685.45" font-size="16.6" fill="#fff" textLength="116.70" class="b" stroke="#fff" stroke-width="0.38" lengthAdjust="spacingAndGlyphs" xml:space="preserve" >pour la mairie</text>
<text x="646.80" y="594.85" font-size="15.6" fill="#1a1a1a" textLength="30.30" text-anchor="end" class="i" stroke="#1a1a1a" stroke-width="0.3" lengthAdjust="spacingAndGlyphs" xml:space="preserve" >56%</text>
<text x="628.80" y="617.75" font-size="15.6" fill="#1a1a1a" textLength="24.84" text-anchor="end" stroke="#1a1a1a" stroke-width="0.32" lengthAdjust="spacingAndGlyphs" xml:space="preserve" >960</text>
<text x="646.80" y="640.45" font-size="15.6" fill="#1a1a1a" textLength="57.40" text-anchor="end" stroke="#1a1a1a" stroke-width="0.32" lengthAdjust="spacingAndGlyphs" xml:space="preserve" >13 437 €</text>
<text x="646.80" y="663.25" font-size="15.6" fill="#1a1a1a" textLength="54.10" text-anchor="end" stroke="#1a1a1a" stroke-width="0.32" lengthAdjust="spacingAndGlyphs" xml:space="preserve" >-4 568 €</text>
<text x="646.80" y="685.75" font-size="16.6" fill="#fff" textLength="56.55" text-anchor="end" class="b" stroke="#fff" stroke-width="0.38" lengthAdjust="spacingAndGlyphs" xml:space="preserve" >8 868 €</text>
<text x="695.30" y="594.85" font-size="15.6" fill="#1a1a1a" textLength="30.30" text-anchor="middle" class="i" stroke="#1a1a1a" stroke-width="0.3" lengthAdjust="spacingAndGlyphs" xml:space="preserve" >48%</text>
<text x="718.40" y="617.75" font-size="15.6" fill="#1a1a1a" textLength="35.60" text-anchor="end" stroke="#1a1a1a" stroke-width="0.32" lengthAdjust="spacingAndGlyphs" xml:space="preserve" >1 401</text>
<text x="736.40" y="640.45" font-size="15.6" fill="#1a1a1a" textLength="57.40" text-anchor="end" stroke="#1a1a1a" stroke-width="0.32" lengthAdjust="spacingAndGlyphs" xml:space="preserve" >19 609 €</text>
<text x="736.40" y="663.25" font-size="15.6" fill="#1a1a1a" textLength="54.10" text-anchor="end" stroke="#1a1a1a" stroke-width="0.32" lengthAdjust="spacingAndGlyphs" xml:space="preserve" >-6 667 €</text>
<text x="736.40" y="685.75" font-size="16.6" fill="#fff" textLength="66.20" text-anchor="end" class="b" stroke="#fff" stroke-width="0.38" lengthAdjust="spacingAndGlyphs" xml:space="preserve" >12 942 €</text>
<text x="784.90" y="571.95" font-size="15.6" fill="#1a1a1a" textLength="30.30" text-anchor="middle" class="i" stroke="#1a1a1a" stroke-width="0.3" lengthAdjust="spacingAndGlyphs" xml:space="preserve" >15%</text>
<text x="784.90" y="594.85" font-size="15.6" fill="#1a1a1a" textLength="30.30" text-anchor="middle" class="i" stroke="#1a1a1a" stroke-width="0.3" lengthAdjust="spacingAndGlyphs" xml:space="preserve" >55%</text>
<text x="808.00" y="617.75" font-size="15.6" fill="#1a1a1a" textLength="34.50" text-anchor="end" stroke="#1a1a1a" stroke-width="0.32" lengthAdjust="spacingAndGlyphs" xml:space="preserve" >1 611</text>
<text x="826.00" y="640.45" font-size="15.6" fill="#1a1a1a" textLength="57.40" text-anchor="end" stroke="#1a1a1a" stroke-width="0.32" lengthAdjust="spacingAndGlyphs" xml:space="preserve" >22 550 €</text>
<text x="826.00" y="663.25" font-size="15.6" fill="#1a1a1a" textLength="54.10" text-anchor="end" stroke="#1a1a1a" stroke-width="0.32" lengthAdjust="spacingAndGlyphs" xml:space="preserve" >-7 667 €</text>
<text x="826.00" y="685.75" font-size="16.6" fill="#fff" textLength="66.20" text-anchor="end" class="b" stroke="#fff" stroke-width="0.38" lengthAdjust="spacingAndGlyphs" xml:space="preserve" >14 883 €</text>
<text x="874.15" y="571.95" font-size="15.6" fill="#1a1a1a" textLength="30.30" text-anchor="middle" class="i" stroke="#1a1a1a" stroke-width="0.3" lengthAdjust="spacingAndGlyphs" xml:space="preserve" >10%</text>
<text x="874.15" y="594.85" font-size="15.6" fill="#1a1a1a" textLength="30.30" text-anchor="middle" class="i" stroke="#1a1a1a" stroke-width="0.3" lengthAdjust="spacingAndGlyphs" xml:space="preserve" >60%</text>
<text x="896.90" y="617.75" font-size="15.6" fill="#1a1a1a" textLength="35.60" text-anchor="end" stroke="#1a1a1a" stroke-width="0.32" lengthAdjust="spacingAndGlyphs" xml:space="preserve" >1 772</text>
<text x="914.90" y="640.45" font-size="15.6" fill="#1a1a1a" textLength="57.40" text-anchor="end" stroke="#1a1a1a" stroke-width="0.32" lengthAdjust="spacingAndGlyphs" xml:space="preserve" >24 805 €</text>
<text x="914.90" y="663.25" font-size="15.6" fill="#1a1a1a" textLength="54.10" text-anchor="end" stroke="#1a1a1a" stroke-width="0.32" lengthAdjust="spacingAndGlyphs" xml:space="preserve" >-8 434 €</text>
<text x="914.90" y="685.75" font-size="16.6" fill="#fff" textLength="66.20" text-anchor="end" class="b" stroke="#fff" stroke-width="0.38" lengthAdjust="spacingAndGlyphs" xml:space="preserve" >16 372 €</text>
<text x="963.35" y="571.95" font-size="15.6" fill="#1a1a1a" textLength="21.88" text-anchor="middle" class="i" stroke="#1a1a1a" stroke-width="0.3" lengthAdjust="spacingAndGlyphs" xml:space="preserve" >8%</text>
<text x="963.35" y="594.85" font-size="15.6" fill="#1a1a1a" textLength="30.30" text-anchor="middle" class="i" stroke="#1a1a1a" stroke-width="0.3" lengthAdjust="spacingAndGlyphs" xml:space="preserve" >65%</text>
<text x="986.40" y="617.75" font-size="15.6" fill="#1a1a1a" textLength="35.60" text-anchor="end" stroke="#1a1a1a" stroke-width="0.32" lengthAdjust="spacingAndGlyphs" xml:space="preserve" >1 914</text>
<text x="1004.40" y="640.45" font-size="15.6" fill="#1a1a1a" textLength="57.40" text-anchor="end" stroke="#1a1a1a" stroke-width="0.32" lengthAdjust="spacingAndGlyphs" xml:space="preserve" >26 790 €</text>
<text x="1004.40" y="663.25" font-size="15.6" fill="#1a1a1a" textLength="54.10" text-anchor="end" stroke="#1a1a1a" stroke-width="0.32" lengthAdjust="spacingAndGlyphs" xml:space="preserve" >-9 109 €</text>
<text x="1004.40" y="685.75" font-size="16.6" fill="#fff" textLength="66.20" text-anchor="end" class="b" stroke="#fff" stroke-width="0.38" lengthAdjust="spacingAndGlyphs" xml:space="preserve" >17 681 €</text>
<text x="1056.55" y="571.95" font-size="15.6" fill="#1a1a1a" textLength="21.88" text-anchor="middle" class="i" stroke="#1a1a1a" stroke-width="0.3" lengthAdjust="spacingAndGlyphs" xml:space="preserve" >4%</text>
<text x="1056.55" y="594.85" font-size="15.6" fill="#1a1a1a" textLength="30.30" text-anchor="middle" class="i" stroke="#1a1a1a" stroke-width="0.3" lengthAdjust="spacingAndGlyphs" xml:space="preserve" >68%</text>
<text x="1083.30" y="617.75" font-size="15.6" fill="#1a1a1a" textLength="35.60" text-anchor="end" stroke="#1a1a1a" stroke-width="0.32" lengthAdjust="spacingAndGlyphs" xml:space="preserve" >1 990</text>
<text x="1101.30" y="640.45" font-size="15.6" fill="#1a1a1a" textLength="57.40" text-anchor="end" stroke="#1a1a1a" stroke-width="0.32" lengthAdjust="spacingAndGlyphs" xml:space="preserve" >27 861 €</text>
<text x="1101.30" y="663.25" font-size="15.6" fill="#1a1a1a" textLength="54.10" text-anchor="end" stroke="#1a1a1a" stroke-width="0.32" lengthAdjust="spacingAndGlyphs" xml:space="preserve" >-9 473 €</text>
<text x="1101.30" y="685.75" font-size="16.6" fill="#fff" textLength="66.20" text-anchor="end" class="b" stroke="#fff" stroke-width="0.38" lengthAdjust="spacingAndGlyphs" xml:space="preserve" >18 388 €</text>
<text x="1153.05" y="571.95" font-size="15.6" fill="#1a1a1a" textLength="21.88" text-anchor="middle" class="i" stroke="#1a1a1a" stroke-width="0.3" lengthAdjust="spacingAndGlyphs" xml:space="preserve" >3%</text>
<text x="1153.05" y="594.85" font-size="15.6" fill="#1a1a1a" textLength="30.30" text-anchor="middle" class="i" stroke="#1a1a1a" stroke-width="0.3" lengthAdjust="spacingAndGlyphs" xml:space="preserve" >70%</text>
<text x="1179.40" y="617.75" font-size="15.6" fill="#1a1a1a" textLength="35.60" text-anchor="end" stroke="#1a1a1a" stroke-width="0.32" lengthAdjust="spacingAndGlyphs" xml:space="preserve" >2 050</text>
<text x="1197.40" y="640.45" font-size="15.6" fill="#1a1a1a" textLength="57.40" text-anchor="end" stroke="#1a1a1a" stroke-width="0.32" lengthAdjust="spacingAndGlyphs" xml:space="preserve" >28 697 €</text>
<text x="1197.40" y="663.25" font-size="15.6" fill="#1a1a1a" textLength="54.10" text-anchor="end" stroke="#1a1a1a" stroke-width="0.32" lengthAdjust="spacingAndGlyphs" xml:space="preserve" >-9 757 €</text>
<text x="1197.40" y="685.75" font-size="16.6" fill="#fff" textLength="66.20" text-anchor="end" class="b" stroke="#fff" stroke-width="0.38" lengthAdjust="spacingAndGlyphs" xml:space="preserve" >18 940 €</text>
<text x="1245.85" y="571.95" font-size="15.6" fill="#1a1a1a" textLength="21.88" text-anchor="middle" class="i" stroke="#1a1a1a" stroke-width="0.3" lengthAdjust="spacingAndGlyphs" xml:space="preserve" >2%</text>
<text x="1245.85" y="594.85" font-size="15.6" fill="#1a1a1a" textLength="30.30" text-anchor="middle" class="i" stroke="#1a1a1a" stroke-width="0.3" lengthAdjust="spacingAndGlyphs" xml:space="preserve" >71%</text>
<text x="1268.90" y="617.75" font-size="15.6" fill="#1a1a1a" textLength="35.60" text-anchor="end" stroke="#1a1a1a" stroke-width="0.32" lengthAdjust="spacingAndGlyphs" xml:space="preserve" >2 091</text>
<text x="1286.90" y="640.45" font-size="15.6" fill="#1a1a1a" textLength="57.40" text-anchor="end" stroke="#1a1a1a" stroke-width="0.32" lengthAdjust="spacingAndGlyphs" xml:space="preserve" >29 271 €</text>
<text x="1286.90" y="663.25" font-size="15.6" fill="#1a1a1a" textLength="54.10" text-anchor="end" stroke="#1a1a1a" stroke-width="0.32" lengthAdjust="spacingAndGlyphs" xml:space="preserve" >-9 952 €</text>
<text x="1286.90" y="685.75" font-size="16.6" fill="#fff" textLength="66.20" text-anchor="end" class="b" stroke="#fff" stroke-width="0.38" lengthAdjust="spacingAndGlyphs" xml:space="preserve" >19 319 €</text>
<text x="1335.45" y="571.95" font-size="15.6" fill="#1a1a1a" textLength="21.88" text-anchor="middle" class="i" stroke="#1a1a1a" stroke-width="0.3" lengthAdjust="spacingAndGlyphs" xml:space="preserve" >2%</text>
<text x="1335.45" y="594.85" font-size="15.6" fill="#1a1a1a" textLength="30.30" text-anchor="middle" class="i" stroke="#1a1a1a" stroke-width="0.3" lengthAdjust="spacingAndGlyphs" xml:space="preserve" >73%</text>
<text x="1358.60" y="617.75" font-size="15.6" fill="#1a1a1a" textLength="35.60" text-anchor="end" stroke="#1a1a1a" stroke-width="0.32" lengthAdjust="spacingAndGlyphs" xml:space="preserve" >2 133</text>
<text x="1376.60" y="640.45" font-size="15.6" fill="#1a1a1a" textLength="57.40" text-anchor="end" stroke="#1a1a1a" stroke-width="0.32" lengthAdjust="spacingAndGlyphs" xml:space="preserve" >29 857 €</text>
<text x="1376.60" y="663.25" font-size="15.6" fill="#1a1a1a" textLength="62.56" text-anchor="end" stroke="#1a1a1a" stroke-width="0.32" lengthAdjust="spacingAndGlyphs" xml:space="preserve" >-10 151 €</text>
<text x="1376.60" y="685.75" font-size="16.6" fill="#fff" textLength="66.20" text-anchor="end" class="b" stroke="#fff" stroke-width="0.38" lengthAdjust="spacingAndGlyphs" xml:space="preserve" >19 705 €</text>
<text x="1427.50" y="571.95" font-size="15.6" fill="#1a1a1a" textLength="21.88" text-anchor="middle" class="i" stroke="#1a1a1a" stroke-width="0.3" lengthAdjust="spacingAndGlyphs" xml:space="preserve" >2%</text>
<text x="1427.50" y="594.85" font-size="15.6" fill="#1a1a1a" textLength="30.30" text-anchor="middle" class="i" stroke="#1a1a1a" stroke-width="0.3" lengthAdjust="spacingAndGlyphs" xml:space="preserve" >74%</text>
<text x="1453.00" y="617.75" font-size="15.6" fill="#1a1a1a" textLength="35.60" text-anchor="end" stroke="#1a1a1a" stroke-width="0.32" lengthAdjust="spacingAndGlyphs" xml:space="preserve" >2 175</text>
<text x="1471.00" y="640.45" font-size="15.6" fill="#1a1a1a" textLength="57.40" text-anchor="end" stroke="#1a1a1a" stroke-width="0.32" lengthAdjust="spacingAndGlyphs" xml:space="preserve" >30 454 €</text>
<text x="1471.00" y="663.25" font-size="15.6" fill="#1a1a1a" textLength="62.56" text-anchor="end" stroke="#1a1a1a" stroke-width="0.32" lengthAdjust="spacingAndGlyphs" xml:space="preserve" >-10 354 €</text>
<text x="1471.00" y="685.75" font-size="16.6" fill="#fff" textLength="66.20" text-anchor="end" class="b" stroke="#fff" stroke-width="0.38" lengthAdjust="spacingAndGlyphs" xml:space="preserve" >20 099 €</text>
<text x="1519.30" y="571.95" font-size="15.6" fill="#1a1a1a" textLength="21.88" text-anchor="middle" class="i" stroke="#1a1a1a" stroke-width="0.3" lengthAdjust="spacingAndGlyphs" xml:space="preserve" >2%</text>
<text x="1519.30" y="594.85" font-size="15.6" fill="#1a1a1a" textLength="30.30" text-anchor="middle" class="i" stroke="#1a1a1a" stroke-width="0.3" lengthAdjust="spacingAndGlyphs" xml:space="preserve" >76%</text>
<text x="1542.20" y="617.75" font-size="15.6" fill="#1a1a1a" textLength="35.60" text-anchor="end" stroke="#1a1a1a" stroke-width="0.32" lengthAdjust="spacingAndGlyphs" xml:space="preserve" >2 219</text>
<text x="1560.20" y="640.45" font-size="15.6" fill="#1a1a1a" textLength="57.40" text-anchor="end" stroke="#1a1a1a" stroke-width="0.32" lengthAdjust="spacingAndGlyphs" xml:space="preserve" >31 063 €</text>
<text x="1560.20" y="663.25" font-size="15.6" fill="#1a1a1a" textLength="62.56" text-anchor="end" stroke="#1a1a1a" stroke-width="0.32" lengthAdjust="spacingAndGlyphs" xml:space="preserve" >-10 561 €</text>
<text x="1560.20" y="685.75" font-size="16.6" fill="#fff" textLength="66.20" text-anchor="end" class="b" stroke="#fff" stroke-width="0.38" lengthAdjust="spacingAndGlyphs" xml:space="preserve" >20 501 €</text>
<text x="1638.50" y="617.65" font-size="16.0" fill="#fff" textLength="48.04" text-anchor="end" class="b" stroke="#fff" stroke-width="0.38" lengthAdjust="spacingAndGlyphs" xml:space="preserve" >20 314</text>
<text x="1638.50" y="640.05" font-size="16.0" fill="#fff" textLength="57.00" text-anchor="end" class="b" stroke="#fff" stroke-width="0.38" lengthAdjust="spacingAndGlyphs" xml:space="preserve" >284 394</text>
<text x="1638.50" y="663.15" font-size="16.0" fill="#fff" textLength="48.04" text-anchor="end" class="b" stroke="#fff" stroke-width="0.38" lengthAdjust="spacingAndGlyphs" xml:space="preserve" >96 694</text>
<text x="1638.50" y="683.65" font-size="16.0" fill="#fff" textLength="57.00" text-anchor="end" class="b" stroke="#fff" stroke-width="0.38" lengthAdjust="spacingAndGlyphs" xml:space="preserve" >187 700</text>
<text x="1568.20" y="663.15" font-size="16.0" fill="#fff" textLength="5.06" class="b" stroke="#fff" stroke-width="0.38" lengthAdjust="spacingAndGlyphs" xml:space="preserve" >-</text>
<text x="11.30" y="710.15" font-size="10.5" fill="#222" textLength="571.00" class="i" stroke="#222" stroke-width="0.3" lengthAdjust="spacingAndGlyphs" xml:space="preserve" >*Les données 2026 sont reprises au prorata temporis en prenant  l&#x27;hypothèse d&#x27;une ouverture en-cours d&#x27;année.</text>
<text x="11.30" y="755.35" font-size="15.3" fill="#111" textLength="309.00" class="bi" stroke="#111" stroke-width="0.3" lengthAdjust="spacingAndGlyphs" xml:space="preserve" >Détail des reversements CCP pour la mairie</text>
<rect x="7.50" y="758.50" width="1653.00" height="45.90" fill="#35339b" />
<rect x="7.50" y="804.40" width="1653.00" height="22.60" fill="#fd6907" />
<rect x="7.50" y="780.60" width="1653.00" height="1.80" fill="#0c0c34" />
<rect x="7.50" y="803.50" width="1653.00" height="1.80" fill="#1a0a20" />
<rect x="7.50" y="826.10" width="1653.00" height="1.80" fill="#2a0e00" />
<rect x="559.50" y="758.50" width="1.80" height="45.90" fill="#0c0c34" />
<rect x="648.80" y="758.50" width="1.80" height="45.90" fill="#0c0c34" />
<rect x="738.40" y="758.50" width="1.80" height="45.90" fill="#0c0c34" />
<rect x="828.00" y="758.50" width="1.80" height="45.90" fill="#0c0c34" />
<rect x="916.90" y="758.50" width="1.80" height="45.90" fill="#0c0c34" />
<rect x="1006.40" y="758.50" width="1.80" height="45.90" fill="#0c0c34" />
<rect x="1103.30" y="758.50" width="1.80" height="45.90" fill="#0c0c34" />
<rect x="1199.40" y="758.50" width="1.80" height="45.90" fill="#0c0c34" />
<rect x="1288.90" y="758.50" width="1.80" height="45.90" fill="#0c0c34" />
<rect x="1378.60" y="758.50" width="1.80" height="45.90" fill="#0c0c34" />
<rect x="1473.00" y="758.50" width="1.80" height="45.90" fill="#0c0c34" />
<rect x="1562.20" y="758.50" width="1.80" height="45.90" fill="#0c0c34" />
<rect x="559.50" y="804.40" width="1.80" height="22.60" fill="#3a1500" />
<rect x="648.80" y="804.40" width="1.80" height="22.60" fill="#3a1500" />
<rect x="738.40" y="804.40" width="1.80" height="22.60" fill="#3a1500" />
<rect x="828.00" y="804.40" width="1.80" height="22.60" fill="#3a1500" />
<rect x="916.90" y="804.40" width="1.80" height="22.60" fill="#3a1500" />
<rect x="1006.40" y="804.40" width="1.80" height="22.60" fill="#3a1500" />
<rect x="1103.30" y="804.40" width="1.80" height="22.60" fill="#3a1500" />
<rect x="1199.40" y="804.40" width="1.80" height="22.60" fill="#3a1500" />
<rect x="1288.90" y="804.40" width="1.80" height="22.60" fill="#3a1500" />
<rect x="1378.60" y="804.40" width="1.80" height="22.60" fill="#3a1500" />
<rect x="1473.00" y="804.40" width="1.80" height="22.60" fill="#3a1500" />
<rect x="1562.20" y="804.40" width="1.80" height="22.60" fill="#3a1500" />
<text x="11.60" y="777.95" font-size="16.2" fill="#fff" textLength="68.50" class="bi" stroke="#fff" stroke-width="0.3" lengthAdjust="spacingAndGlyphs" xml:space="preserve" >Part fixe</text>
<text x="11.60" y="800.65" font-size="16.2" fill="#fff" textLength="104.00" class="bi" stroke="#fff" stroke-width="0.3" lengthAdjust="spacingAndGlyphs" xml:space="preserve" >Part variable</text>
<text x="124.80" y="824.05" font-size="16.6" fill="#fff" textLength="191.84" class="b" stroke="#fff" stroke-width="0.38" lengthAdjust="spacingAndGlyphs" xml:space="preserve" >TOTAL VERSEMENT TTC</text>
<text x="321.10" y="824.05" font-size="16.6" fill="#fff" textLength="116.70" class="b" stroke="#fff" stroke-width="0.38" lengthAdjust="spacingAndGlyphs" xml:space="preserve" >pour la mairie</text>
<text x="647.10" y="800.35" font-size="16.3" fill="#fff" textLength="55.69" text-anchor="end" class="bi" stroke="#fff" stroke-width="0.3" lengthAdjust="spacingAndGlyphs" xml:space="preserve" >8 868 €</text>
<text x="646.70" y="823.05" font-size="15.0" fill="#fff" textLength="51.85" text-anchor="end" class="b" stroke="#fff" stroke-width="0.38" lengthAdjust="spacingAndGlyphs" xml:space="preserve" >8 868 €</text>
<text x="736.70" y="777.75" font-size="16.3" fill="#fff" textLength="55.70" text-anchor="end" class="bi" stroke="#fff" stroke-width="0.3" lengthAdjust="spacingAndGlyphs" xml:space="preserve" >2 000 €</text>
<text x="736.70" y="800.35" font-size="16.3" fill="#fff" textLength="65.20" text-anchor="end" class="bi" stroke="#fff" stroke-width="0.3" lengthAdjust="spacingAndGlyphs" xml:space="preserve" >10 942 €</text>
<text x="736.30" y="823.05" font-size="15.0" fill="#fff" textLength="60.70" text-anchor="end" class="b" stroke="#fff" stroke-width="0.38" lengthAdjust="spacingAndGlyphs" xml:space="preserve" >12 942 €</text>
<text x="826.30" y="777.75" font-size="16.3" fill="#fff" textLength="55.70" text-anchor="end" class="bi" stroke="#fff" stroke-width="0.3" lengthAdjust="spacingAndGlyphs" xml:space="preserve" >2 000 €</text>
<text x="826.30" y="800.35" font-size="16.3" fill="#fff" textLength="65.20" text-anchor="end" class="bi" stroke="#fff" stroke-width="0.3" lengthAdjust="spacingAndGlyphs" xml:space="preserve" >12 883 €</text>
<text x="825.90" y="823.05" font-size="15.0" fill="#fff" textLength="60.70" text-anchor="end" class="b" stroke="#fff" stroke-width="0.38" lengthAdjust="spacingAndGlyphs" xml:space="preserve" >14 883 €</text>
<text x="915.20" y="777.75" font-size="16.3" fill="#fff" textLength="55.70" text-anchor="end" class="bi" stroke="#fff" stroke-width="0.3" lengthAdjust="spacingAndGlyphs" xml:space="preserve" >2 000 €</text>
<text x="915.20" y="800.35" font-size="16.3" fill="#fff" textLength="65.20" text-anchor="end" class="bi" stroke="#fff" stroke-width="0.3" lengthAdjust="spacingAndGlyphs" xml:space="preserve" >14 372 €</text>
<text x="914.80" y="823.05" font-size="15.0" fill="#fff" textLength="60.70" text-anchor="end" class="b" stroke="#fff" stroke-width="0.38" lengthAdjust="spacingAndGlyphs" xml:space="preserve" >16 372 €</text>
<text x="1004.70" y="777.75" font-size="16.3" fill="#fff" textLength="55.70" text-anchor="end" class="bi" stroke="#fff" stroke-width="0.3" lengthAdjust="spacingAndGlyphs" xml:space="preserve" >2 000 €</text>
<text x="1004.70" y="800.35" font-size="16.3" fill="#fff" textLength="65.20" text-anchor="end" class="bi" stroke="#fff" stroke-width="0.3" lengthAdjust="spacingAndGlyphs" xml:space="preserve" >15 681 €</text>
<text x="1004.30" y="823.05" font-size="15.0" fill="#fff" textLength="60.70" text-anchor="end" class="b" stroke="#fff" stroke-width="0.38" lengthAdjust="spacingAndGlyphs" xml:space="preserve" >17 681 €</text>
<text x="1101.60" y="777.75" font-size="16.3" fill="#fff" textLength="55.70" text-anchor="end" class="bi" stroke="#fff" stroke-width="0.3" lengthAdjust="spacingAndGlyphs" xml:space="preserve" >2 000 €</text>
<text x="1101.60" y="800.35" font-size="16.3" fill="#fff" textLength="65.20" text-anchor="end" class="bi" stroke="#fff" stroke-width="0.3" lengthAdjust="spacingAndGlyphs" xml:space="preserve" >16 388 €</text>
<text x="1101.20" y="823.05" font-size="15.0" fill="#fff" textLength="60.70" text-anchor="end" class="b" stroke="#fff" stroke-width="0.38" lengthAdjust="spacingAndGlyphs" xml:space="preserve" >18 388 €</text>
<text x="1197.70" y="777.75" font-size="16.3" fill="#fff" textLength="55.70" text-anchor="end" class="bi" stroke="#fff" stroke-width="0.3" lengthAdjust="spacingAndGlyphs" xml:space="preserve" >2 000 €</text>
<text x="1197.70" y="800.35" font-size="16.3" fill="#fff" textLength="65.20" text-anchor="end" class="bi" stroke="#fff" stroke-width="0.3" lengthAdjust="spacingAndGlyphs" xml:space="preserve" >16 940 €</text>
<text x="1197.30" y="823.05" font-size="15.0" fill="#fff" textLength="60.70" text-anchor="end" class="b" stroke="#fff" stroke-width="0.38" lengthAdjust="spacingAndGlyphs" xml:space="preserve" >18 940 €</text>
<text x="1287.20" y="777.75" font-size="16.3" fill="#fff" textLength="55.70" text-anchor="end" class="bi" stroke="#fff" stroke-width="0.3" lengthAdjust="spacingAndGlyphs" xml:space="preserve" >2 000 €</text>
<text x="1287.20" y="800.35" font-size="16.3" fill="#fff" textLength="65.20" text-anchor="end" class="bi" stroke="#fff" stroke-width="0.3" lengthAdjust="spacingAndGlyphs" xml:space="preserve" >17 319 €</text>
<text x="1286.80" y="823.05" font-size="15.0" fill="#fff" textLength="60.70" text-anchor="end" class="b" stroke="#fff" stroke-width="0.38" lengthAdjust="spacingAndGlyphs" xml:space="preserve" >19 319 €</text>
<text x="1376.90" y="777.75" font-size="16.3" fill="#fff" textLength="55.70" text-anchor="end" class="bi" stroke="#fff" stroke-width="0.3" lengthAdjust="spacingAndGlyphs" xml:space="preserve" >2 000 €</text>
<text x="1376.90" y="800.35" font-size="16.3" fill="#fff" textLength="65.20" text-anchor="end" class="bi" stroke="#fff" stroke-width="0.3" lengthAdjust="spacingAndGlyphs" xml:space="preserve" >17 705 €</text>
<text x="1376.50" y="823.05" font-size="15.0" fill="#fff" textLength="60.70" text-anchor="end" class="b" stroke="#fff" stroke-width="0.38" lengthAdjust="spacingAndGlyphs" xml:space="preserve" >19 705 €</text>
<text x="1471.30" y="777.75" font-size="16.3" fill="#fff" textLength="55.70" text-anchor="end" class="bi" stroke="#fff" stroke-width="0.3" lengthAdjust="spacingAndGlyphs" xml:space="preserve" >2 000 €</text>
<text x="1471.30" y="800.35" font-size="16.3" fill="#fff" textLength="65.20" text-anchor="end" class="bi" stroke="#fff" stroke-width="0.3" lengthAdjust="spacingAndGlyphs" xml:space="preserve" >18 099 €</text>
<text x="1470.90" y="823.05" font-size="15.0" fill="#fff" textLength="60.70" text-anchor="end" class="b" stroke="#fff" stroke-width="0.38" lengthAdjust="spacingAndGlyphs" xml:space="preserve" >20 099 €</text>
<text x="1560.50" y="777.75" font-size="16.3" fill="#fff" textLength="55.70" text-anchor="end" class="bi" stroke="#fff" stroke-width="0.3" lengthAdjust="spacingAndGlyphs" xml:space="preserve" >2 000 €</text>
<text x="1560.50" y="800.35" font-size="16.3" fill="#fff" textLength="65.20" text-anchor="end" class="bi" stroke="#fff" stroke-width="0.3" lengthAdjust="spacingAndGlyphs" xml:space="preserve" >18 501 €</text>
<text x="1560.10" y="823.05" font-size="15.0" fill="#fff" textLength="60.70" text-anchor="end" class="b" stroke="#fff" stroke-width="0.38" lengthAdjust="spacingAndGlyphs" xml:space="preserve" >20 501 €</text>
<text x="1612.10" y="777.75" font-size="16.3" fill="#fff" textLength="64.70" text-anchor="middle" class="b" stroke="#fff" stroke-width="0.38" lengthAdjust="spacingAndGlyphs" xml:space="preserve" >20 000 €</text>
<text x="1612.30" y="800.45" font-size="16.3" fill="#fff" textLength="74.40" text-anchor="middle" class="b" stroke="#fff" stroke-width="0.38" lengthAdjust="spacingAndGlyphs" xml:space="preserve" >167 700 €</text>
<text x="1612.10" y="823.25" font-size="15.0" fill="#fff" textLength="70.10" text-anchor="middle" class="b" stroke="#fff" stroke-width="0.38" lengthAdjust="spacingAndGlyphs" xml:space="preserve" >187 700 €</text>
<rect x="7.50" y="849.85" width="1653.70" height="1.90" fill="#262626" />
<rect x="7.50" y="1052.55" width="1653.70" height="1.90" fill="#262626" />
<rect x="1659.25" y="850.80" width="1.90" height="202.70" fill="#262626" />
<text x="11.60" y="871.65" font-size="16.2" fill="#111" textLength="278.50" class="b" stroke="#111" stroke-width="0.38" lengthAdjust="spacingAndGlyphs" xml:space="preserve" >Note sur les données prévisionnelles</text>
<rect x="11.60" y="873.70" width="278.60" height="1.60" fill="#111" />
<text x="11.30" y="896.95" font-size="15.3" fill="#1a1a1a" textLength="901.00" stroke="#1a1a1a" stroke-width="0.32" lengthAdjust="spacingAndGlyphs" xml:space="preserve" >*Les données 2026 sont reprises au prorata temporis en prenant  l&#x27;hypothèse d&#x27;une ouverture en-cours d&#x27;année 2026, soit en </text>
<text x="912.50" y="896.95" font-size="15.8" fill="#d41a1a" textLength="29.00" class="b" stroke="#d41a1a" stroke-width="0.38" lengthAdjust="spacingAndGlyphs" xml:space="preserve" >juin</text>
<text x="941.50" y="896.95" font-size="15.3" fill="#1a1a1a" textLength="39.00" stroke="#1a1a1a" stroke-width="0.32" lengthAdjust="spacingAndGlyphs" xml:space="preserve" > 2026</text>
<text x="11.60" y="921.95" font-size="15.8" fill="#3e3c98" textLength="136.50" class="b" stroke="#3e3c98" stroke-width="0.38" lengthAdjust="spacingAndGlyphs" xml:space="preserve" >Chiffre d&#x27;affaires :</text>
<text x="11.60" y="945.45" font-size="15.3" fill="#1a1a1a" textLength="854.80" stroke="#1a1a1a" stroke-width="0.32" lengthAdjust="spacingAndGlyphs" xml:space="preserve" >Les prévisions de taux de fréquentation tiennent compte des données moyennes rencontrées sur l&#x27;ensemble du réseau</text>
<text x="870.90" y="945.45" font-size="15.3" fill="#1a1a1a" textLength="148.60" stroke="#1a1a1a" stroke-width="0.32" lengthAdjust="spacingAndGlyphs" xml:space="preserve" >CAMPING-CAR PARK.</text>
<text x="11.60" y="967.95" font-size="15.8" fill="#3e3c98" textLength="169.00" class="b" stroke="#3e3c98" stroke-width="0.38" lengthAdjust="spacingAndGlyphs" xml:space="preserve" >Gestion commerciale :</text>
<text x="11.30" y="991.45" font-size="15.3" fill="#1a1a1a" textLength="728.50" stroke="#1a1a1a" stroke-width="0.32" lengthAdjust="spacingAndGlyphs" xml:space="preserve" >Le coût de la gestion commerciale est minimum de 3,64 € HT par tranche de 24h et par emplacement.</text>
<text x="11.60" y="1013.75" font-size="15.8" fill="#3e3c98" textLength="306.50" class="b" stroke="#3e3c98" stroke-width="0.38" lengthAdjust="spacingAndGlyphs" xml:space="preserve" >Charges exploitations fixes et variables :</text>
<text x="11.60" y="1041.75" font-size="15.3" fill="#1a1a1a" textLength="378.57" stroke="#1a1a1a" stroke-width="0.32" lengthAdjust="spacingAndGlyphs" xml:space="preserve" >Les charges fixes correspondantes aux abonnements</text>
<text x="394.60" y="1041.75" font-size="15.3" fill="#1a1a1a" textLength="237.08" stroke="#1a1a1a" stroke-width="0.32" lengthAdjust="spacingAndGlyphs" xml:space="preserve" >Net Connect (LYRA, ADSL et WIFI)</text>
<text x="635.90" y="1041.75" font-size="15.3" fill="#1a1a1a" textLength="441.72" stroke="#1a1a1a" stroke-width="0.32" lengthAdjust="spacingAndGlyphs" xml:space="preserve" >et les charges variables correspondantes aux consommations</text>
<text x="1082.10" y="1041.75" font-size="15.3" fill="#1a1a1a" textLength="152.53" stroke="#1a1a1a" stroke-width="0.32" lengthAdjust="spacingAndGlyphs" xml:space="preserve" >d&#x27;Eau et d&#x27;Electricité,</text>
<text x="1239.20" y="1041.75" font-size="15.3" fill="#1a1a1a" textLength="214.20" stroke="#1a1a1a" stroke-width="0.32" lengthAdjust="spacingAndGlyphs" xml:space="preserve" >ne sont pas prises en compte.</text>
<rect x="708.8" y="1057.3" width="271.5" height="5.8" rx="2.9" fill="#696969"/>
<path d="M1139.10 137.50 L1155.90 92.90 L1165.90 92.90 L1182.70 137.50 L1173.50 137.50 L1160.90 104.05 L1148.30 137.50 Z M1156.12 115.40 L1165.68 115.40 L1168.54 123.00 L1153.26 123.00 Z M1183.00 137.50 L1183.00 92.90 L1193.20 92.90 L1205.25 121.50 L1217.30 92.90 L1227.50 92.90 L1227.50 137.50 L1218.60 137.50 L1218.60 113.40 L1208.45 137.50 L1202.05 137.50 L1191.90 113.40 L1191.90 137.50 Z M1232.10 92.90 L1241.30 92.90 L1241.30 137.50 L1232.10 137.50 Z M1240.50 92.90 L1246.45 92.90 A14.15 14.15 0 0 1 1246.45 121.20 L1240.50 121.20 L1240.50 112.60 L1246.45 112.60 A5.55 5.55 0 0 0 1246.45 101.50 L1240.50 101.50 Z M1263.00 92.90 L1272.30 92.90 L1272.30 137.50 L1263.00 137.50 Z M1276.80 137.50 L1276.80 92.90 L1287.60 92.90 L1300.50 120.00 L1300.50 92.90 L1309.50 92.90 L1309.50 137.50 L1298.70 137.50 L1285.80 110.40 L1285.80 137.50 Z M1360.30 115.60 L1373.40 115.60 L1373.40 122.20 L1360.30 122.20 Z M1414.00 137.50 L1431.15 92.90 L1441.15 92.90 L1458.30 137.50 L1449.10 137.50 L1436.15 103.82 L1423.20 137.50 Z M1431.20 115.40 L1441.10 115.40 L1444.02 123.00 L1428.28 123.00 Z M1459.80 92.90 L1469.10 92.90 L1469.10 137.50 L1459.80 137.50 Z M1468.40 92.90 L1472.95 92.90 A13.35 13.35 0 0 1 1472.95 119.60 L1468.40 119.60 L1468.40 111.00 L1472.95 111.00 A4.75 4.75 0 0 0 1472.95 101.50 L1468.40 101.50 Z M1471.00 118.00 L1481.30 116.50 L1488.00 137.50 L1477.20 137.50 L1468.50 119.60 Z" fill="#2b3a8d"/>
<path d="M1348.31 103.34 L1346.68 101.51 L1344.82 99.93 L1342.78 98.65 L1340.60 97.68 L1338.32 97.05 L1335.98 96.77 L1333.62 96.83 L1331.30 97.25 L1329.05 98.01 L1326.92 99.10 L1324.95 100.50 L1323.17 102.18 L1321.63 104.10 L1320.34 106.24 L1319.35 108.55 L1318.65 110.99 L1318.27 113.50 L1318.22 116.05 L1318.49 118.59 L1319.08 121.05 L1319.98 123.41 L1321.17 125.61 L1322.63 127.61 L1324.34 129.37 L1326.25 130.87 L1328.33 132.06 L1330.54 132.93 L1332.85 133.47 L1335.20 133.65 L1337.55 133.48 L1339.86 132.96 L1342.08 132.11 L1344.16 130.93 L1346.08 129.45 L1347.80 127.69 L1349.27 125.70 L1350.47 123.51 L1351.39 121.16 L1351.99 118.70 L1352.28 116.17 L1352.30 118.55 L1330.6 118.55" fill="none" stroke="#2b3a8d" stroke-width="8.4" stroke-linejoin="miter" stroke-miterlimit="6"/>
<path d="M1411.48 103.34 L1410.03 101.71 L1408.41 100.27 L1406.64 99.06 L1404.74 98.09 L1402.75 97.38 L1400.69 96.93 L1398.60 96.75 L1396.50 96.85 L1394.43 97.22 L1392.42 97.86 L1390.49 98.76 L1388.68 99.90 L1387.02 101.28 L1385.52 102.85 L1384.21 104.62 L1383.11 106.54 L1382.24 108.59 L1381.61 110.74 L1381.23 112.95 L1381.10 115.20 L1381.23 117.45 L1381.61 119.66 L1382.24 121.81 L1383.11 123.86 L1384.21 125.78 L1385.52 127.55 L1387.02 129.12 L1388.68 130.50 L1390.49 131.64 L1392.42 132.54 L1394.43 133.18 L1396.50 133.55 L1398.60 133.65 L1400.69 133.47 L1402.75 133.02 L1404.74 132.31 L1406.64 131.34 L1408.41 130.13 L1410.03 128.69 L1411.48 127.06" fill="none" stroke="#2b3a8d" stroke-width="8.4"/>
<defs><linearGradient id="hg" x1="0" y1="0" x2="0" y2="1"><stop offset="0" stop-color="#cfe9b4"/><stop offset="0.35" stop-color="#6dbb3c"/><stop offset="1" stop-color="#3fa92a"/></linearGradient><linearGradient id="lg" x1="0" y1="0" x2="1" y2="1"><stop offset="0" stop-color="#8fc63f"/><stop offset="1" stop-color="#a6cf3e"/></linearGradient></defs>
<path d="M1090.5 127.5 L1098 124.6 L1106 122 L1112.7 119.9 L1119 118.9 L1126 117.8 L1131 116.6 Q1134.5 113.6 1137 114.4 Q1140.9 116.5 1140.6 121 Q1140.3 126.5 1137.6 130.4 L1130.45 128.80 A21.90 21.90 0 0 1 1090.5 127.5 Z" fill="url(#lg)"/>
<path d="M1091.5 127.2 L1090.8 114.5 Q1094.5 111.6 1098 110 Q1101.4 108.6 1103.6 110.2 L1108 114.2 L1113.2 119.7 L1106 122 L1098 124.7 Z" fill="url(#hg)"/>
<path d="M1112.1 110.4 L1126.9 109.1 L1127.3 112.8 L1128.8 115 L1128.8 117.1 L1113 118.7 Z" fill="#2a3885"/>
<path d="M1114.4 112.9 L1118.8 112.5 L1118.9 114.8 L1114.5 115.2 Z M1120 112.4 L1124 112 L1124.6 114.2 L1120.1 114.7 Z" fill="#c9d2f0"/>
<circle cx="1116.6" cy="118.6" r="1.3" fill="#dfe9d0"/><circle cx="1125" cy="117.8" r="1.3" fill="#dfe9d0"/>
<path d="M1138.53 102.10 A28.6 28.6 0 1 0 1138.53 130.50 L1130.45 128.80 A20.9 20.9 0 1 1 1130.45 103.80 Z" fill="#2b3a8d"/>
<g fill="none" stroke="#6cbb4c" stroke-width="3.5" stroke-linecap="round" stroke-linejoin="round"><path d="M1525.8 97.0 C1524.5 110 1521.5 125 1518.2 137.6"/><path d="M1517.2 98.6 C1527 94.6 1541 95.6 1546.6 101 C1552 107.5 1541 114.2 1528 115.3 C1524 115.7 1520 115.8 1517.6 114.6"/><path d="M1557.9 98.9 C1555.5 112 1551 127 1545.9 140.3"/><path d="M1553.2 121.2 C1559 112 1565 103 1570.5 96.2 C1570.5 108 1567.5 124 1564.0 137.3"/><path d="M1553.4 120.9 L1572.8 120.4"/><path d="M1590.4 97.2 C1589.8 110 1588 125 1585.7 138"/><path d="M1577.4 93.9 C1587 94.6 1601 98.6 1608.5 103.2 C1614 107.5 1610.5 112 1604 114.5 C1598 117.2 1590 120.2 1584 122.3 C1594 125.8 1607 132 1613.5 138 C1616.5 141 1618 144 1618.7 146.4"/><path d="M1630.5 95.2 C1628.5 108 1624.5 122 1620.4 133.3"/><path d="M1650.2 96.5 C1647.5 104 1640 112.5 1629.2 115.6 C1637 119.5 1645.5 129 1650.1 141.4"/></g>
</g>
</svg>
</body></html>
